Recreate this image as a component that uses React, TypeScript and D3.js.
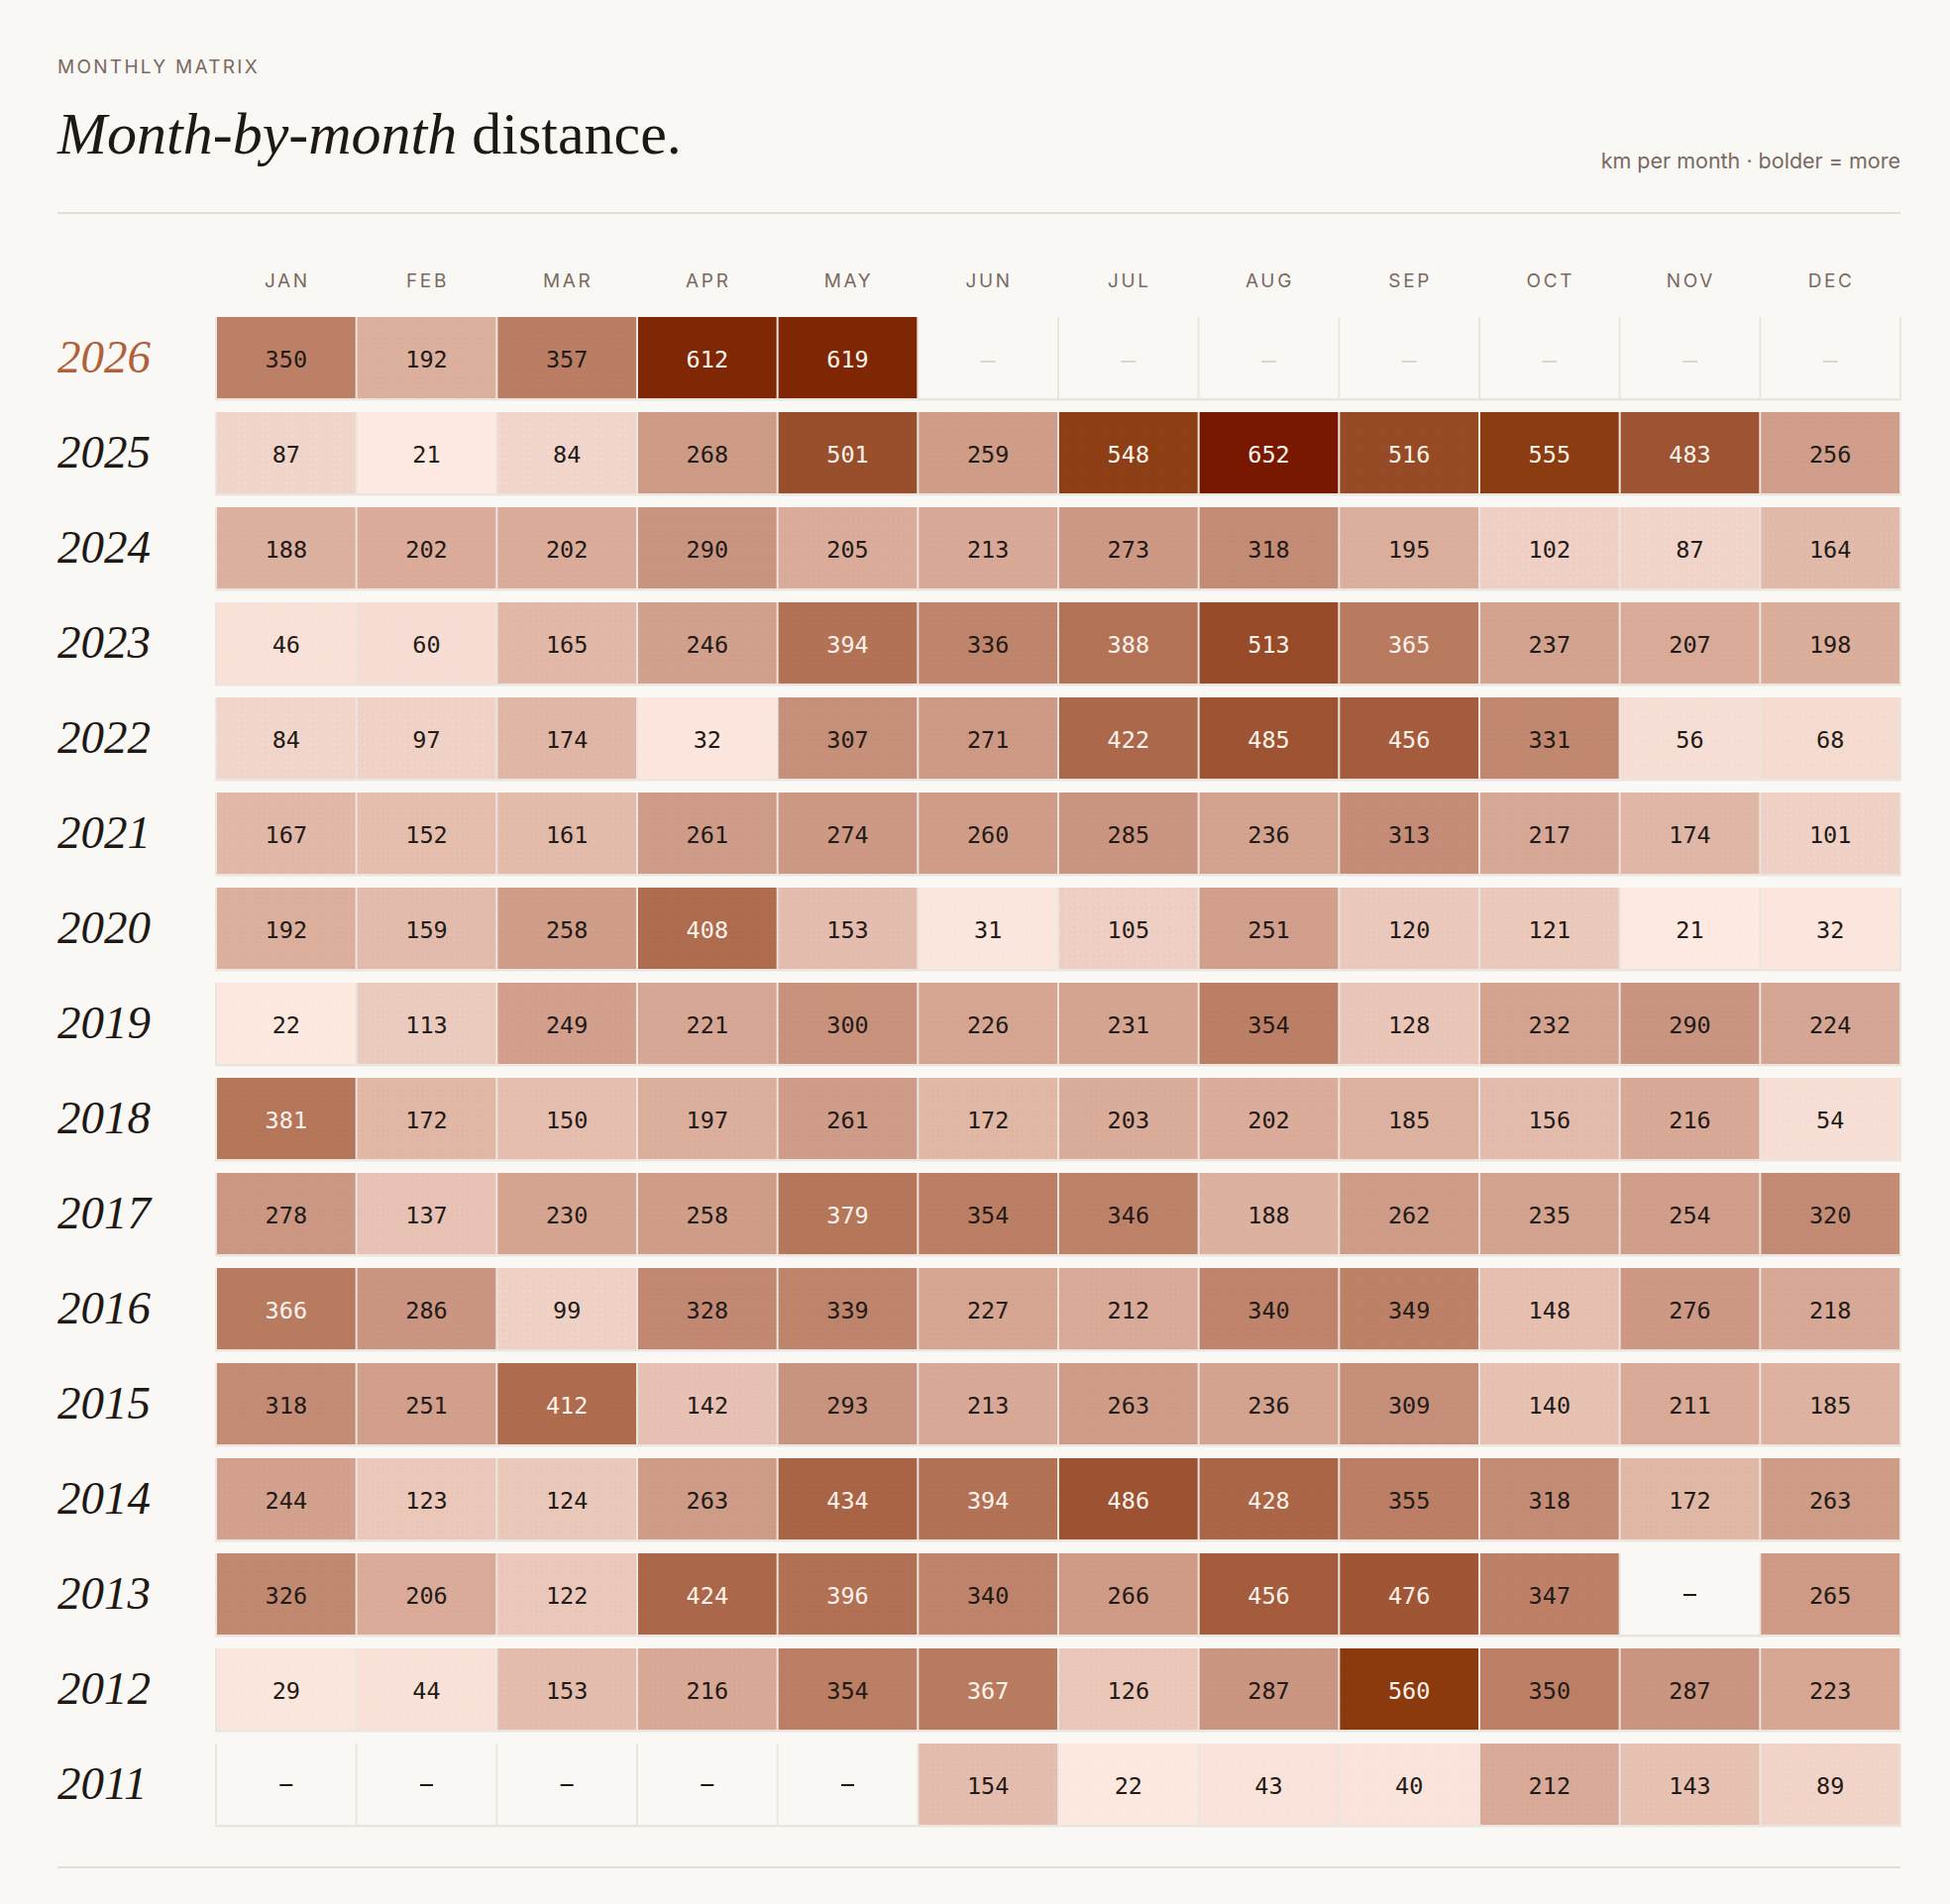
import React from 'react';
import * as d3 from 'd3';

const months = ['JAN', 'FEB', 'MAR', 'APR', 'MAY', 'JUN', 'JUL', 'AUG', 'SEP', 'OCT', 'NOV', 'DEC'];
const years = [2026, 2025, 2024, 2023, 2022, 2021, 2020, 2019, 2018, 2017, 2016, 2015, 2014, 2013, 2012, 2011];

// km per month, one array per year (same order as `years`); null = nothing logged
const distances: (number | null)[][] = [
  [350, 192, 357, 612, 619, null, null, null, null, null, null, null],
  [87, 21, 84, 268, 501, 259, 548, 652, 516, 555, 483, 256],
  [188, 202, 202, 290, 205, 213, 273, 318, 195, 102, 87, 164],
  [46, 60, 165, 246, 394, 336, 388, 513, 365, 237, 207, 198],
  [84, 97, 174, 32, 307, 271, 422, 485, 456, 331, 56, 68],
  [167, 152, 161, 261, 274, 260, 285, 236, 313, 217, 174, 101],
  [192, 159, 258, 408, 153, 31, 105, 251, 120, 121, 21, 32],
  [22, 113, 249, 221, 300, 226, 231, 354, 128, 232, 290, 224],
  [381, 172, 150, 197, 261, 172, 203, 202, 185, 156, 216, 54],
  [278, 137, 230, 258, 379, 354, 346, 188, 262, 235, 254, 320],
  [366, 286, 99, 328, 339, 227, 212, 340, 349, 148, 276, 218],
  [318, 251, 412, 142, 293, 213, 263, 236, 309, 140, 211, 185],
  [244, 123, 124, 263, 434, 394, 486, 428, 355, 318, 172, 263],
  [326, 206, 122, 424, 396, 340, 266, 456, 476, 347, null, 265],
  [29, 44, 153, 216, 354, 367, 126, 287, 560, 350, 287, 223],
  [null, null, null, null, null, 154, 22, 43, 40, 212, 143, 89],
];

const currentYear = 2026;
const currentMonth = 4; // May — later months haven't happened yet

const W = 1968;
const H = 1922;
const BG = '#faf8f5';
const INK = '#1f1916';
const MUTED = '#7a6961';
const RULE = '#ddd6d2';
const SANS = 'Inter, "Noto Sans", sans-serif';
const SERIF = '"Liberation Serif", "DejaVu Serif", serif';
const MONO = '"DejaVu Sans Mono", monospace';

const x = d3.scaleBand<string>().domain(months).range([219, 1917]).paddingInner(0.0141);
const y = d3.scaleBand<number>().domain(years).range([320, 1842]).paddingInner(0.1458);

// pink -> brown -> burnt red
const color = d3
  .scaleLinear<string>()
  .domain([20, 100, 200, 300, 380, 450, 520, 560, 652])
  .range(['#fde9e1', '#efd0c4', '#dbad9b', '#c8927d', '#b6765a', '#a55e3f', '#964925', '#8b3a0e', '#781800'])
  .interpolate(d3.interpolateLab)
  .clamp(true);

const App = () => {
  return (
    <svg
      width={W}
      height={H}
      viewBox={`0 0 ${W} ${H}`}
      style={{ position: 'absolute', left: 0, top: 0, background: BG }}
    >
      <defs>
        <pattern id="dots-light" width="6" height="6" patternUnits="userSpaceOnUse">
          <circle cx="1.5" cy="1.5" r="0.7" fill="#ffffff" fillOpacity="0.3" />
        </pattern>
        <pattern id="dots-dark" width="5" height="5" patternUnits="userSpaceOnUse">
          <circle cx="1.5" cy="1.5" r="0.6" fill="#000000" fillOpacity="0.05" />
        </pattern>
      </defs>
      <rect width={W} height={H} fill={BG} />

      {/* header */}
      <text x={58} y={74} fill={MUTED} fontFamily={SANS} fontSize={19} letterSpacing="0.12em">
        MONTHLY MATRIX
      </text>
      <text x={58} y={155} fill={INK} fontFamily={SERIF} fontSize={60}>
        <tspan fontStyle="italic">Month-by-month</tspan>
        <tspan> distance.</tspan>
      </text>
      <text x={1918} y={170} textAnchor="end" fill={MUTED} fontFamily={SANS} fontSize={21.5}>
        km per month · bolder = more
      </text>
      <line x1={58} x2={1918} y1={215} y2={215} stroke={RULE} strokeWidth={1.5} />

      {/* month labels */}
      {months.map(m => (
        <text
          key={m}
          x={(x(m) ?? 0) + x.bandwidth() / 2 + 1}
          y={290}
          textAnchor="middle"
          fill={MUTED}
          fontFamily={SANS}
          fontSize={19}
          letterSpacing="0.14em"
        >
          {m}
        </text>
      ))}

      {/* rows */}
      {years.map((yr, ri) => {
        const top = y(yr) ?? 0;
        const h = y.bandwidth();
        const cy = top + h / 2;
        return (
          <g key={yr}>
            <text
              x={58}
              y={cy + 15}
              fill={yr === currentYear ? '#b0603a' : INK}
              fontFamily={SERIF}
              fontStyle="italic"
              fontSize={47}
            >
              {yr}
            </text>
            <rect x={217} y={top} width={1702} height={h + 2.5} fill="#ebe5e1" />
            {months.map((m, mi) => {
              const v = distances[ri][mi];
              const cx0 = x(m) ?? 0;
              const cw = x.bandwidth();
              const future = yr === currentYear && mi > currentMonth;
              if (v === null) {
                return (
                  <g key={m}>
                    <rect x={cx0} y={top} width={cw} height={h} fill={BG} />
                    {future ? (
                      <line x1={cx0 + cw / 2 - 7.5} x2={cx0 + cw / 2 + 7.5} y1={cy + 4} y2={cy + 4} stroke="#cbc3be" strokeWidth={1.3} />
                    ) : (
                      <line x1={cx0 + cw / 2 - 6.5} x2={cx0 + cw / 2 + 6.5} y1={cy + 1} y2={cy + 1} stroke={INK} strokeWidth={2} />
                    )}
                  </g>
                );
              }
              const light = v < 110;
              return (
                <g key={m}>
                  <rect x={cx0} y={top} width={cw} height={h} fill={color(v)} />
                  <rect x={cx0} y={top} width={cw} height={h} fill={light ? 'url(#dots-light)' : 'url(#dots-dark)'} />
                  <text
                    x={cx0 + cw / 2}
                    y={cy + 10}
                    textAnchor="middle"
                    fill={v > 360 ? '#fdf3ec' : '#221a16'}
                    fontFamily={MONO}
                    fontSize={23.5}
                  >
                    {v}
                  </text>
                </g>
              );
            })}
          </g>
        );
      })}

      <line x1={58} x2={1918} y1={1885} y2={1885} stroke={RULE} strokeWidth={1.5} />
    </svg>
  );
};

export default App;
